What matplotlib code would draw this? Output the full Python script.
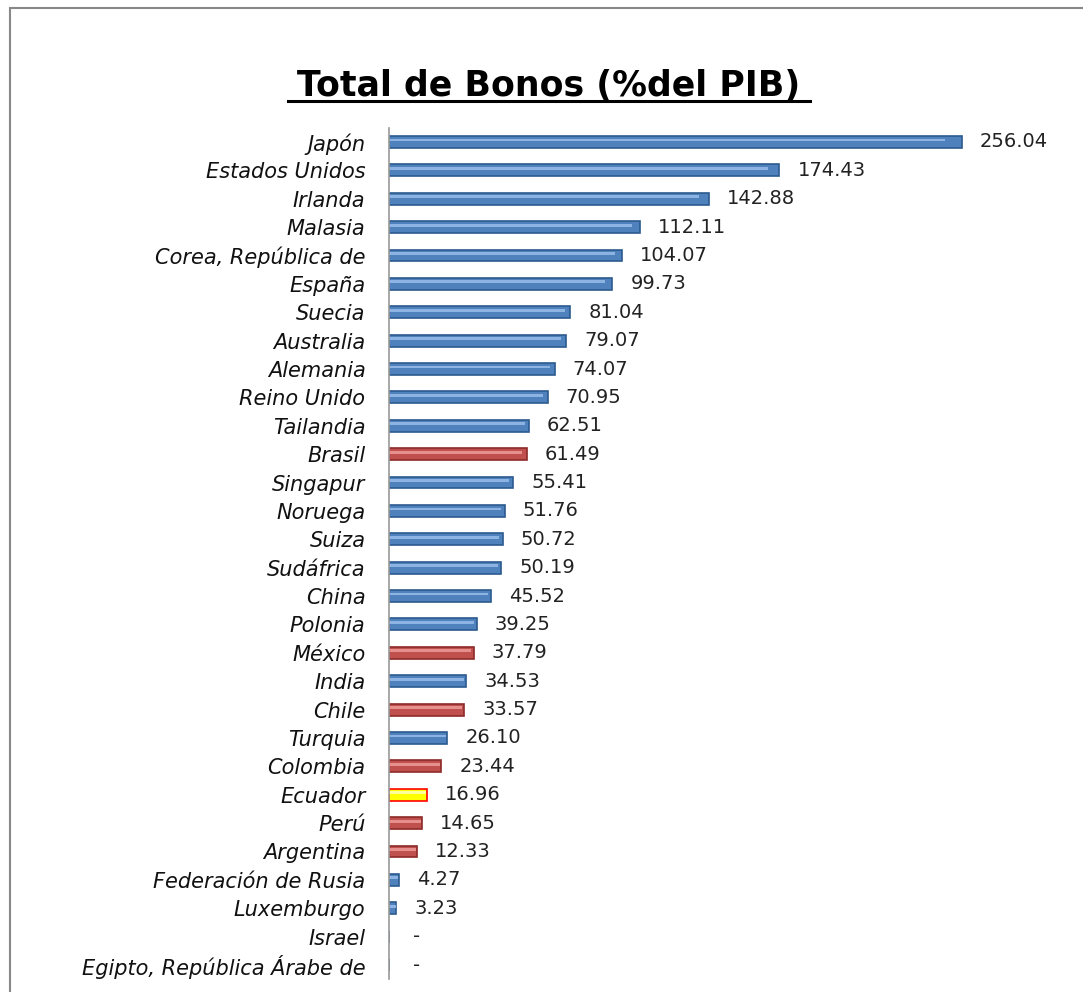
import matplotlib.pyplot as plt
from matplotlib.patches import Rectangle

countries = ["Japón", "Estados Unidos", "Irlanda", "Malasia", "Corea, República de",
             "España", "Suecia", "Australia", "Alemania", "Reino Unido", "Tailandia",
             "Brasil", "Singapur", "Noruega", "Suiza", "Sudáfrica", "China", "Polonia",
             "México", "India", "Chile", "Turquia", "Colombia", "Ecuador", "Perú",
             "Argentina", "Federación de Rusia", "Luxemburgo", "Israel",
             "Egipto, República Árabe de"]
values = [256.04, 174.43, 142.88, 112.11, 104.07, 99.73, 81.04, 79.07, 74.07, 70.95,
          62.51, 61.49, 55.41, 51.76, 50.72, 50.19, 45.52, 39.25, 37.79, 34.53,
          33.57, 26.10, 23.44, 16.96, 14.65, 12.33, 4.27, 3.23, 0, 0]
# w = world, l = latin america, e = ecuador
groups = ["w"] * 11 + ["l"] + ["w"] * 6 + ["l", "w", "l", "w", "l", "e", "l", "l",
                                           "w", "w", "w", "w"]

FACE = {"w": "#4f81bd", "l": "#c0504d", "e": "#ffff00"}
EDGE = {"w": "#2c5a8f", "l": "#8c2b28", "e": "#ff0000"}
SHINE = {"w": "#8db3e2", "l": "#e6908d", "e": "#ffff99"}

fig = plt.figure(figsize=(10.83, 9.92), dpi=100)
fig.patches.append(Rectangle((10 / 1083, -0.1), 1.2, 1 - 8 / 992 + 0.1,
                             transform=fig.transFigure, fill=False,
                             edgecolor="#888888", linewidth=1.5))

ax = fig.add_axes([389 / 1083, 0.0129, 1 - 389 / 1083, 0.8583])
y = list(range(len(countries)))
faces = [FACE[g] for g in groups]
edges = [EDGE[g] for g in groups]
ax.barh(y, values, height=0.42, color=faces, edgecolor=edges, linewidth=1.2)
ax.barh([i - 0.07 for i in y], [v * 0.97 for v in values], height=0.1,
        color=[SHINE[g] for g in groups], linewidth=0)

for i, v in enumerate(values):
    txt = "-" if v == 0 else f"{v:.2f}"
    ax.annotate(txt, (v, i), xytext=(13 if v else 17, 0), textcoords="offset points",
                va="center", ha="left", fontsize=14, color="#222222")

ax.set_xlim(0, (1083 - 389) / 2.238)
ax.set_ylim(len(countries) - 0.5, -0.5)
ax.set_yticks(y)
ax.set_yticklabels(countries, fontsize=15, style="italic", color="#111111")
ax.tick_params(axis="y", length=0, pad=17)
ax.set_xticks([])
for s in ["top", "right", "bottom"]:
    ax.spines[s].set_visible(False)
ax.spines["left"].set_color("#999999")
ax.spines["left"].set_linewidth(1.2)

fig.text(549 / 1083, 1 - 86 / 992, "Total de Bonos (%del PIB)", ha="center", va="center",
         fontsize=25, fontweight="bold")
fig.add_artist(plt.Line2D([288 / 1083, 810 / 1083], [1 - 101 / 992, 1 - 101 / 992],
                          color="black", linewidth=2.2))

fig.savefig("out.png", dpi=100)
